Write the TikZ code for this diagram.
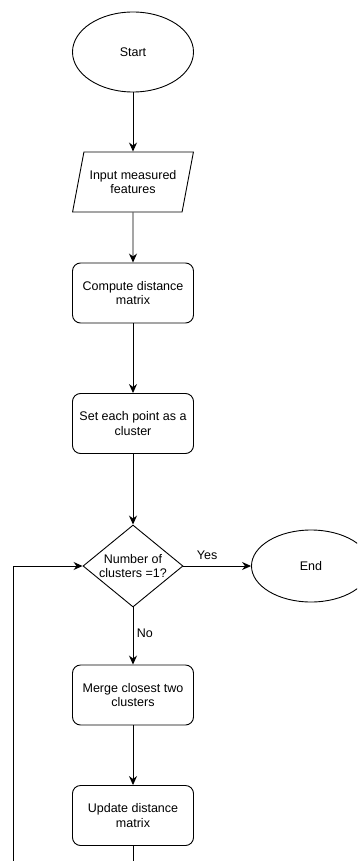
\documentclass[tikz,border=0pt]{standalone}
\usepackage{fontspec}
\setmainfont{Liberation Sans}
\usetikzlibrary{shapes.geometric,arrows.meta}

\tikzset{
    box/.style={draw, rounded corners=8pt, minimum width=121pt, minimum height=60pt, align=center, inner sep=2pt},
    term/.style={draw, ellipse, minimum width=121pt, minimum height=80pt, align=center},
    io/.style={draw, trapezium, trapezium left angle=67, trapezium right angle=113, trapezium stretches=true, minimum width=121pt, minimum height=60pt, align=center, inner sep=0pt},
    decide/.style={draw, diamond, aspect=1.22, minimum width=100pt, minimum height=82pt, align=center, inner sep=0pt},
    flow/.style={-{Stealth[length=9pt,width=8pt]}}
}

\begin{document}
\begin{tikzpicture}[x=1pt, y=-1pt, line width=0.9pt, font=\fontsize{12.5}{14.5}\selectfont]
            \useasboundingbox (0,0) rectangle (357,861);
            \clip (0,0) rectangle (357,861);
            \node[term] (start) at (133,52) {Start};
            \node[io] (input) at (133,182) {Input measured\\features};
            \node[box] (dist) at (133,293) {Compute distance\\matrix};
            \node[box] (init) at (133,423.5) {Set each point as a\\cluster};
            \node[decide] (check) at (133,566) {Number of\\clusters =1?};
            \node[term, minimum width=119pt, minimum height=72pt] (end) at (311,566) {End};
            \node[box] (merge) at (133,695) {Merge closest two\\clusters};
            \node[box] (update) at (133,815.5) {Update distance\\matrix};
            \coordinate (out) at (133,880);
            \coordinate (back) at (13,880);
            % main path
            \draw[flow] (start) -- (input);
            \draw[flow] (input) -- (dist);
            \draw[flow] (dist) -- (init);
            \draw[flow] (init) -- (check);
            \draw[flow] (check) -- node[above, pos=0.35, yshift=3pt] {Yes} (end);
            \draw[flow] (check) -- node[right, pos=0.45] {No} (merge);
            \draw[flow] (merge) -- (update);
            % loop back
            \draw (update) -- (out);
            \draw[flow] (back) |- (check.west);
        \end{tikzpicture}
\end{document}
